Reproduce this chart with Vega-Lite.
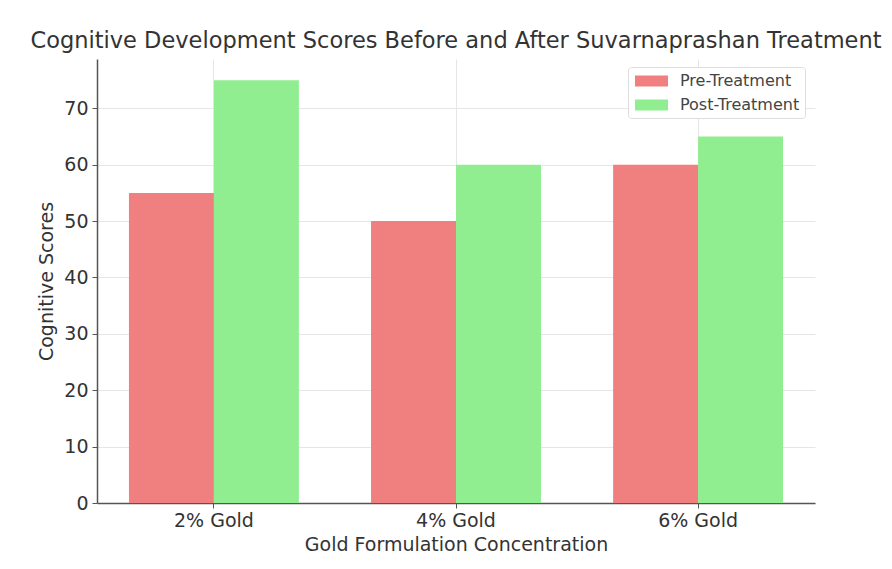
{
  "$schema": "https://vega.github.io/schema/vega-lite/v6.json",
  "width": 718,
  "height": 444,
  "autosize": {"type": "none"},
  "padding": {"left": 97, "top": 59, "right": 77, "bottom": 66},
  "background": "white",
  "title": {
    "text": "Cognitive Development Scores Before and After Suvarnaprashan Treatment",
    "font": "DejaVu Sans",
    "fontSize": 22.5,
    "fontWeight": "normal",
    "color": "#333333",
    "anchor": "middle",
    "baseline": "bottom",
    "offset": 8,
    "dy": 24
  },
  "data": {
    "values": [
      {"concentration": "2% Gold", "phase": "Pre-Treatment", "score": 55},
      {"concentration": "2% Gold", "phase": "Post-Treatment", "score": 75},
      {"concentration": "4% Gold", "phase": "Pre-Treatment", "score": 50},
      {"concentration": "4% Gold", "phase": "Post-Treatment", "score": 60},
      {"concentration": "6% Gold", "phase": "Pre-Treatment", "score": 60},
      {"concentration": "6% Gold", "phase": "Post-Treatment", "score": 65}
    ]
  },
  "mark": {"type": "bar"},
  "encoding": {
    "x": {
      "field": "concentration",
      "type": "nominal",
      "sort": ["2% Gold", "4% Gold", "6% Gold"],
      "scale": {"paddingInner": 0.298, "paddingOuter": 0.132},
      "axis": {
        "title": "Gold Formulation Concentration",
        "labelAngle": 0,
        "bandPosition": 0.5,
        "grid": true,
        "gridColor": "#e6e6e6",
        "gridWidth": 1,
        "tickSize": 5,
        "labelPadding": 3,
        "titlePadding": 5
      }
    },
    "xOffset": {
      "field": "phase",
      "type": "nominal",
      "sort": ["Pre-Treatment", "Post-Treatment"],
      "scale": {"paddingInner": 0, "paddingOuter": 0}
    },
    "y": {
      "field": "score",
      "type": "quantitative",
      "scale": {"domain": [0, 78.75], "nice": false},
      "axis": {
        "title": "Cognitive Scores",
        "values": [0, 10, 20, 30, 40, 50, 60, 70],
        "grid": true,
        "gridColor": "#e6e6e6",
        "gridWidth": 1,
        "tickSize": 5,
        "labelPadding": 4,
        "titlePadding": 7
      }
    },
    "color": {
      "field": "phase",
      "type": "nominal",
      "sort": ["Pre-Treatment", "Post-Treatment"],
      "scale": {"domain": ["Pre-Treatment", "Post-Treatment"], "range": ["#F08080", "#90EE90"]},
      "legend": {
        "title": null,
        "orient": "none",
        "legendX": 531,
        "legendY": 8,
        "symbolType": "M-0.78,-0.61H2.89V0.61H-0.78Z",
        "symbolSize": 324,
        "symbolStrokeWidth": 0,
        "labelFont": "DejaVu Sans",
        "labelFontSize": 16,
        "labelColor": "#444444",
        "labelOffset": 29,
        "rowPadding": 7,
        "padding": 5,
        "strokeColor": "#dddddd",
        "fillColor": "white",
        "cornerRadius": 3
      }
    }
  },
  "config": {
    "view": {"stroke": null},
    "axis": {
      "labelFont": "DejaVu Sans",
      "titleFont": "DejaVu Sans",
      "labelFontSize": 19,
      "titleFontSize": 19,
      "titleFontWeight": "normal",
      "labelColor": "#333333",
      "titleColor": "#333333",
      "domainColor": "#555555",
      "domainWidth": 1.5,
      "tickColor": "#555555",
      "tickWidth": 1
    }
  }
}
